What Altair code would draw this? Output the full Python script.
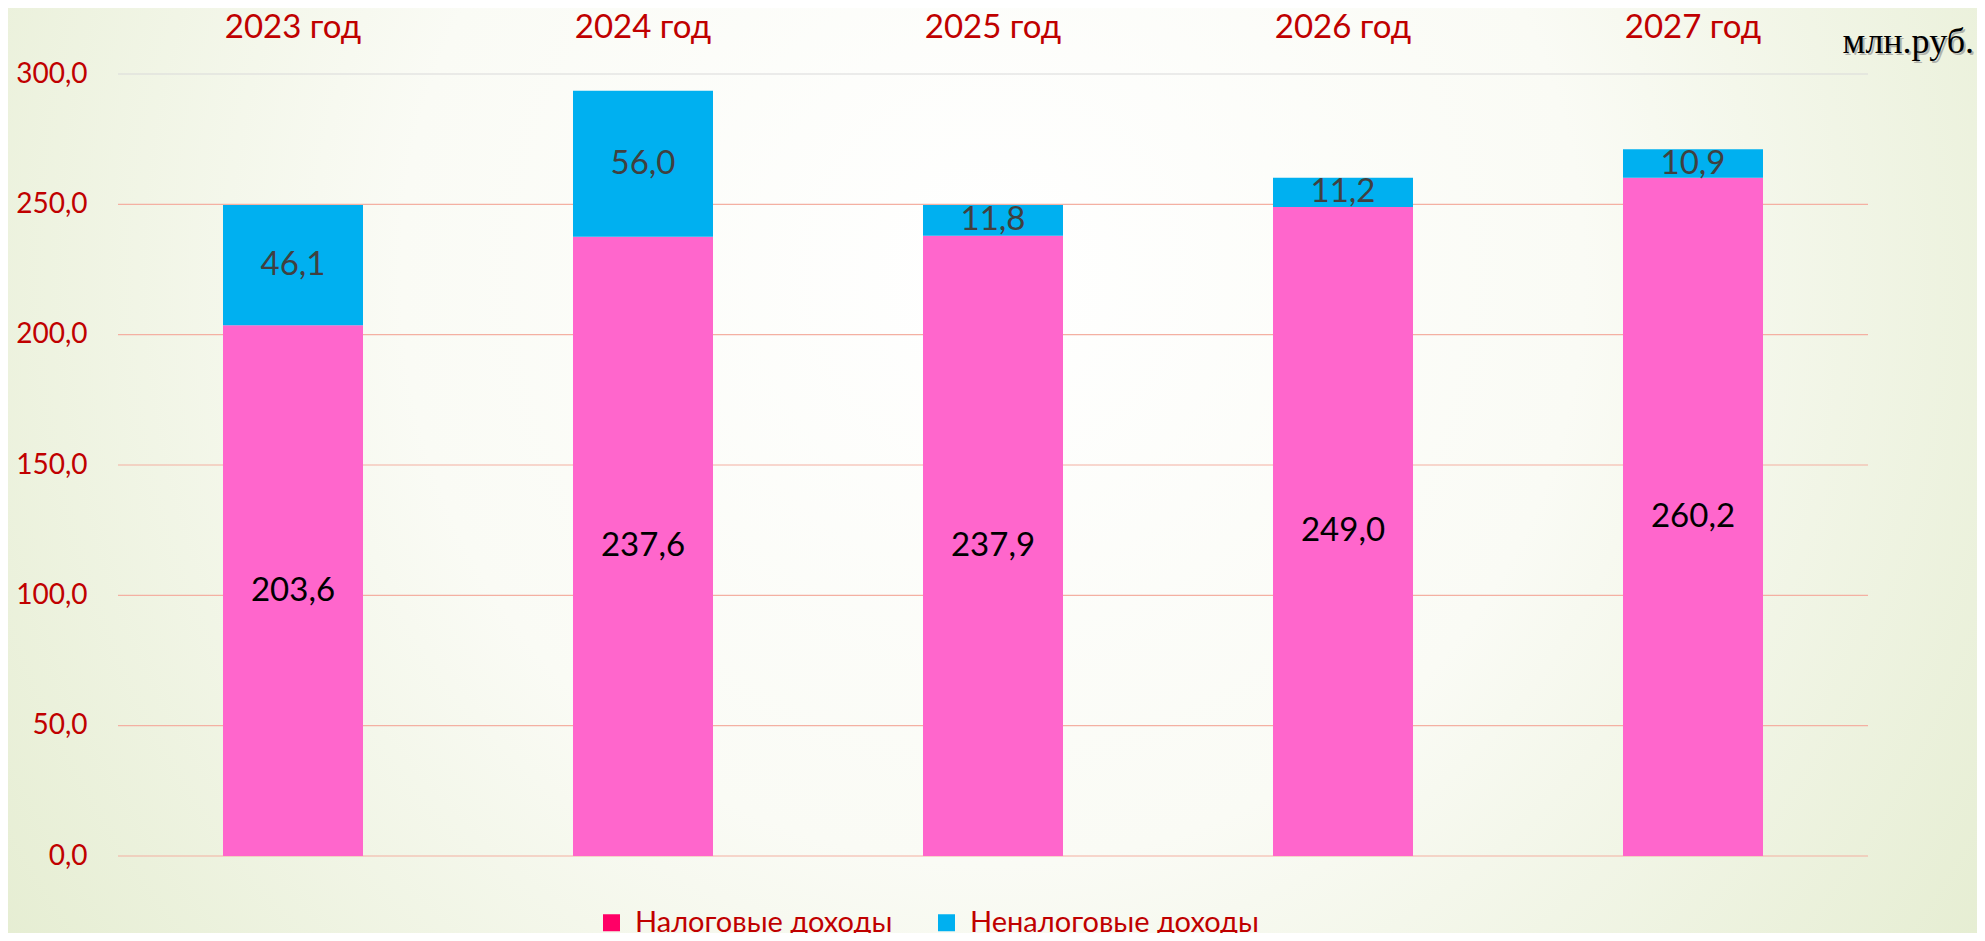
import altair as alt
import pandas as pd

years = ["2023 год", "2024 год", "2025 год", "2026 год", "2027 год"]
series_names = ["Налоговые доходы", "Неналоговые доходы"]
tax = [203.6, 237.6, 237.9, 249.0, 260.2]
nontax = [46.1, 56.0, 11.8, 11.2, 10.9]
y_ticks = [0, 50, 100, 150, 200, 250, 300]
unit_label = "млн.руб."

rows = []
for i, yr in enumerate(years):
    rows.append({"year": yr, "series": series_names[0], "ord": 0, "value": tax[i]})
    rows.append({"year": yr, "series": series_names[1], "ord": 1, "value": nontax[i]})
df = pd.DataFrame(rows)

W, H = 1750, 782
PAD = {"left": 110, "top": 66, "right": 109, "bottom": 77}
RED = "#C00000"
NUM_FONT = "Lato"

base = alt.Chart(df).transform_stack(
    stack="value", as_=["y0", "y1"], groupby=["year"], sort=[alt.SortField("ord")]
).transform_calculate(
    mid="(datum.y0 + datum.y1) / 2",
    lbl="replace(format(datum.value, '.1f'), '.', ',')",
)

x_enc = alt.X(
    "year:N",
    sort=years,
    scale=alt.Scale(paddingInner=0.6, paddingOuter=0.3),
    axis=alt.Axis(
        orient="top", title=None, ticks=False, tickSize=0, domain=False, grid=False,
        labelFont=NUM_FONT, labelFontSize=33, labelColor=RED,
        labelPadding=37, labelBaseline="alphabetic", labelAngle=0, zindex=1,
    ),
)

y_scale = alt.Scale(domain=[0, 300], nice=False)
y_axis = alt.Axis(
    title=None, values=y_ticks, ticks=False, tickSize=0, domain=False, grid=False,
    labelExpr="replace(format(datum.value, '.1f'), '.', ',')",
    labelFont=NUM_FONT, labelFontSize=28, labelColor=RED, labelPadding=31,
    zindex=1,
)

grid = alt.Chart(pd.DataFrame({"tick": y_ticks})).mark_rule(strokeWidth=1.2).encode(
    y=alt.Y("tick:Q", scale=y_scale, axis=y_axis),
    color=alt.condition(alt.datum.tick == 300, alt.value("#D9D9D9"), alt.value("#F4B0A2")),
)

bars = base.mark_bar(size=140).encode(
    x=x_enc,
    y=alt.Y("y0:Q", scale=y_scale, axis=y_axis),
    y2="y1:Q",
    color=alt.condition(alt.datum.ord == 0, alt.value("#FF66CC"), alt.value("#00B0F0")),
)

labels = base.mark_text(font=NUM_FONT, fontSize=33, baseline="middle", align="center").encode(
    x=alt.X("year:N", sort=years),
    y=alt.Y("mid:Q", scale=y_scale),
    text="lbl:N",
    color=alt.condition(alt.datum.ord == 0, alt.value("#000000"), alt.value("#404040")),
)

legend_layer = alt.Chart(df).transform_filter("false").mark_square(filled=True).encode(
    color=alt.Color(
        "series:N",
        scale=alt.Scale(domain=series_names, range=["#FF0066", "#00B0F0"]),
        legend=alt.Legend(
            title=None, orient="none", direction="horizontal",
            legendX=479, legendY=834, padding=0,
            symbolType="square", symbolSize=289, symbolStrokeWidth=0, symbolOpacity=1,
            labelFont=NUM_FONT, labelFontSize=29, labelColor=RED, labelOffset=9,
            columnPadding=39, labelLimit=400,
        ),
    )
)

one = pd.DataFrame({"k": [0]})
unit_shadow = alt.Chart(one).mark_text(
    text=unit_label, font="Liberation Serif", fontSize=36, align="right",
    baseline="alphabetic", color="#8a8a8a", opacity=0.6,
).encode(x=alt.value(W + 108), y=alt.value(-19))
unit_text = alt.Chart(one).mark_text(
    text=unit_label, font="Liberation Serif", fontSize=36, align="right",
    baseline="alphabetic", color="#000000",
).encode(x=alt.value(W + 106), y=alt.value(-21))

bg = alt.Chart(one).mark_rect(
    color=alt.RadialGradient(
        gradient="radial", x1=0.5, y1=0.4, r1=0.0, x2=0.5, y2=0.4, r2=0.75,
        stops=[
            alt.GradientStop(offset=0, color="#FFFFFF"),
            alt.GradientStop(offset=0.4, color="#FAFBF5"),
            alt.GradientStop(offset=1, color="#DCE7C2"),
        ],
    )
).encode(
    x=alt.value(-PAD["left"]), x2=alt.value(W + PAD["right"]),
    y=alt.value(-PAD["top"]), y2=alt.value(H + PAD["bottom"]),
)

chart = alt.layer(bg, grid, bars, labels, unit_shadow, unit_text, legend_layer).properties(
    width=W, height=H, padding=PAD,
    autosize=alt.AutoSizeParams(type="none"),
    background="#EEF3E2",
).configure_view(stroke=None)

chart.save("out.html", embed_options={"renderer": "svg", "actions": False})
